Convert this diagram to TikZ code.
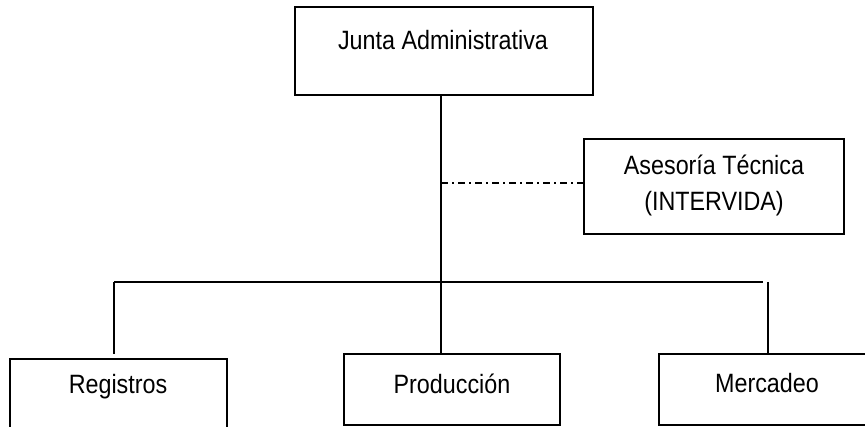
\documentclass[tikz,border=0pt]{standalone}
\usepackage{fontspec}
\setmainfont[FakeStretch=0.88]{Liberation Sans}
\begin{document}
\begin{tikzpicture}[x=1pt,y=-1pt,
  box/.style={draw=black,line width=2pt,rectangle,inner sep=0pt,outer sep=0pt},
  lbl/.style={inner sep=0pt,font=\fontsize{26.5}{36}\selectfont,align=center},
  conn/.style={draw=black,line width=2pt},
  ddash/.style={draw=black,line width=1.2pt,dash pattern=on 7pt off 4pt on 2pt off 4pt}]
\useasboundingbox (0,0) rectangle (865,427);
\clip (0,0) rectangle (865,427);
% boxes
\node[box,minimum width=298pt,minimum height=88pt] (junta) at (444,51) {};
\node[lbl] (juntaT) at (443,40) {Junta Administrativa};
\node[box,minimum width=260pt,minimum height=95pt] (ases) at (714,186.5) {};
\node[lbl] (asesT) at (714,185) {Asesoría Técnica\\(INTERVIDA)};
\node[box,minimum width=217pt,minimum height=71pt] (reg) at (118.5,394.5) {};
\node[lbl] (regT) at (118,387) {Registros};
\node[box,minimum width=216pt,minimum height=71pt] (prod) at (452,389.5) {};
\node[lbl] (prodT) at (452,384) {Producción};
\node[box,minimum width=216pt,minimum height=71pt] (merc) at (767,389.5) {};
\node[lbl] (mercT) at (767,383) {Mercadeo};
% connectors
\coordinate (busL) at (114,282);
\coordinate (busR) at (763,282);
\coordinate (busM) at (768,282);
\coordinate (dd) at (441,183);
\draw[conn] ([xshift=-3pt]junta.south) -- ([xshift=-3pt]junta.south |- prod.north);
\draw[conn] (busL) -- (busR);
\draw[conn] (busL) -- ([yshift=5pt]busL |- reg.north);
\draw[conn] (busM) -- (busM |- merc.north);
\draw[ddash] (dd) -- (dd -| ases.west);
\end{tikzpicture}
\end{document}
